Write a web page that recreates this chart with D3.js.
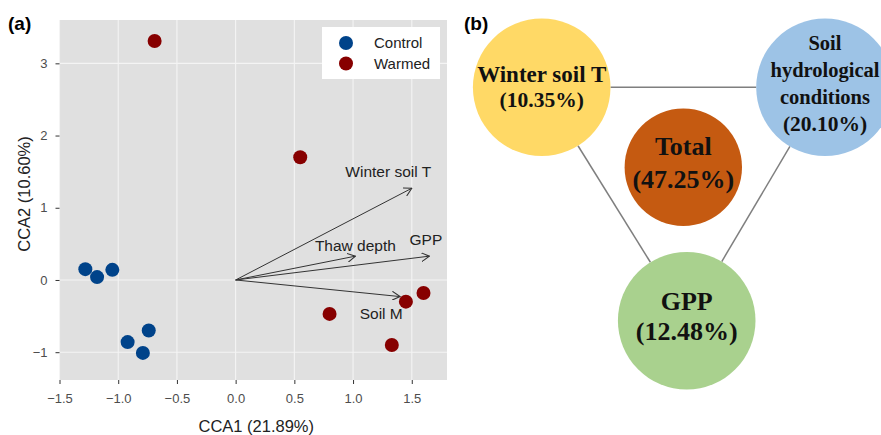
<!DOCTYPE html>
<html><head><meta charset="utf-8">
<script src="https://cdn.jsdelivr.net/npm/d3@7"></script>
<style>body{margin:0;background:#fff}svg{display:block}</style>
</head><body><svg id="c" width="881" height="435"></svg>
<script>
// ---- Panel (a) data: CCA ordination ----
const controlX = [-1.28, -1.18, -1.05, -0.74, -0.92, -0.79];
const controlY = [0.15, 0.04, 0.14, -0.70, -0.86, -1.01];
const warmedX = [-0.69, 0.55, 0.80, 1.45, 1.60, 1.33];
const warmedY = [3.31, 1.70, -0.47, -0.30, -0.18, -0.90];
const arrowNames = ["Winter soil T", "Thaw depth", "GPP", "Soil M"];
const arrowX = [1.50, 1.02, 1.65, 1.40];
const arrowY = [1.27, 0.33, 0.33, -0.23];
const labelX = [1.30, 1.02, 1.62, 1.24];
const labelY = [1.50, 0.47, 0.56, -0.47];
const xTicks = [-1.5, -1.0, -0.5, 0.0, 0.5, 1.0, 1.5];
const yTicks = [-1, 0, 1, 2, 3];
const yGridVisible = [-1, 0, 3];
const groups = ["Control", "Warmed"];
const groupColors = ["#00438a", "#870000"];

// ---- Panel (b) data: variance partitioning ----
const partNames = [["Winter soil T", "(10.35%)"], ["Soil", "hydrological", "conditions", "(20.10%)"], ["Total", "(47.25%)"], ["GPP", "(12.48%)"]];
const partValues = [10.35, 20.10, 47.25, 12.48];
const partColors = ["#ffd966", "#9dc3e6", "#c55a11", "#a9d18e"];

const svg = d3.select("#c");
const SANS = "Liberation Sans, Arial, sans-serif";

// ---------- Panel (a) ----------
const L = 59.5, R = 447, T = 20, B = 380;
const x = d3.scaleLinear().domain([-1.5, 1.8]).range([L, R]);
const y = d3.scaleLinear().domain([-1.385, 3.6]).range([B, T]);

svg.append("rect").attr("x", L).attr("y", T).attr("width", R - L).attr("height", B - T).attr("fill", "#e0e0e0");
const g = svg.append("g");
g.selectAll(".vg").data(xTicks).join("line")
  .attr("x1", d => x(d)).attr("x2", d => x(d)).attr("y1", T).attr("y2", B)
  .attr("stroke", "#f4f4f4").attr("stroke-width", 1.1);
g.selectAll(".hg").data(yGridVisible).join("line")
  .attr("y1", d => y(d)).attr("y2", d => y(d)).attr("x1", L).attr("x2", R)
  .attr("stroke", "#f4f4f4").attr("stroke-width", 1.1);

const xAxis = svg.append("g").attr("transform", `translate(0,${B})`)
  .call(d3.axisBottom(x).tickValues(xTicks).tickFormat(d3.format(".1f")).tickSize(4).tickPadding(6).tickSizeOuter(0));
xAxis.select(".domain").remove();
xAxis.selectAll("line").attr("stroke", "#333");
xAxis.selectAll("text").attr("fill", "#4d4d4d").attr("font-size", 13).attr("font-family", SANS).attr("dy", "1.0em")
  .text(d => d3.format(".1f")(d).replace("-", "\u2212"));

const yAxis = svg.append("g").attr("transform", `translate(${L},0)`)
  .call(d3.axisLeft(y).tickValues(yTicks).tickSize(4).tickPadding(8).tickSizeOuter(0));
yAxis.select(".domain").remove();
yAxis.selectAll("line").attr("stroke", "#333");
yAxis.selectAll("text").attr("fill", "#4d4d4d").attr("font-size", 13).attr("font-family", SANS)
  .text(d => String(d).replace("-", "\u2212"));

svg.append("text").attr("x", (L + R) / 2 + 3).attr("y", 432).attr("text-anchor", "middle")
  .attr("font-family", SANS).attr("font-size", 16.5).attr("fill", "#222").text("CCA1 (21.89%)");
svg.append("text").attr("transform", `translate(30,194) rotate(-90)`).attr("text-anchor", "middle")
  .attr("font-family", SANS).attr("font-size", 16.5).attr("fill", "#222").text("CCA2 (10.60%)");

// arrows
svg.append("defs").append("marker").attr("id", "ah").attr("viewBox", "0 0 10 10").attr("refX", 9).attr("refY", 5)
  .attr("markerWidth", 9).attr("markerHeight", 9).attr("markerUnits", "userSpaceOnUse").attr("orient", "auto")
  .append("path").attr("d", "M0,0 L9,5 L0,10").attr("fill", "none").attr("stroke", "#333").attr("stroke-width", 1.2);
svg.selectAll(".arr").data(arrowNames).join("line")
  .attr("x1", x(0)).attr("y1", y(0)).attr("x2", (d, i) => x(arrowX[i])).attr("y2", (d, i) => y(arrowY[i]))
  .attr("stroke", "#333").attr("stroke-width", 1).attr("marker-end", "url(#ah)");

// points
const pts = [];
controlX.forEach((v, i) => pts.push({x: v, y: controlY[i], g: 0}));
warmedX.forEach((v, i) => pts.push({x: v, y: warmedY[i], g: 1}));
svg.selectAll(".pt").data(pts).join("circle")
  .attr("cx", d => x(d.x)).attr("cy", d => y(d.y)).attr("r", 7).attr("fill", d => groupColors[d.g]);

svg.selectAll(".alab").data(arrowNames).join("text")
  .attr("x", (d, i) => x(labelX[i])).attr("y", (d, i) => y(labelY[i])).attr("dy", "0.35em").attr("text-anchor", "middle")
  .attr("font-family", SANS).attr("font-size", 15.5).attr("fill", "#222").text(d => d);

// legend
const lg = svg.append("g");
lg.append("rect").attr("x", 322).attr("y", 27).attr("width", 118).attr("height", 52).attr("fill", "#fff");
groups.forEach((name, i) => {
  lg.append("circle").attr("cx", 346).attr("cy", 43 + i * 20.5).attr("r", 7).attr("fill", groupColors[i]);
  lg.append("text").attr("x", 374).attr("y", 43 + i * 20.5).attr("dy", "0.35em").attr("font-family", SANS)
    .attr("font-size", 15).attr("fill", "#222").text(name);
});

svg.append("text").attr("x", 8).attr("y", 30).attr("font-family", SANS).attr("font-weight", "bold")
  .attr("font-size", 19).text("(a)");
svg.append("text").attr("x", 464).attr("y", 30).attr("font-family", SANS).attr("font-weight", "bold")
  .attr("font-size", 19).text("(b)");

// ---------- Panel (b) ----------
const nodeCx = [541.7, 825, 683.3, 686.7];
const nodeCy = [87.3, 87.3, 167.3, 320.7];
const nodeR = partValues.map((v, i) => i === 2 ? 58.7 : 68.8);
const links = [[0, 1], [0, 3], [1, 3]];
function edgePoint(a, b) {
  const dx = nodeCx[b] - nodeCx[a], dy = nodeCy[b] - nodeCy[a], len = Math.hypot(dx, dy);
  return [nodeCx[a] + dx / len * nodeR[a], nodeCy[a] + dy / len * nodeR[a]];
}
svg.selectAll(".lk").data(links).join("line")
  .attr("x1", d => edgePoint(d[0], d[1])[0]).attr("y1", d => edgePoint(d[0], d[1])[1])
  .attr("x2", d => edgePoint(d[1], d[0])[0]).attr("y2", d => edgePoint(d[1], d[0])[1])
  .attr("stroke", "#7f7f7f").attr("stroke-width", 1.5);
svg.selectAll(".nd").data(partNames).join("circle")
  .attr("cx", (d, i) => nodeCx[i]).attr("cy", (d, i) => nodeCy[i]).attr("r", (d, i) => nodeR[i]).attr("fill", (d, i) => partColors[i]);

const nameFs = [23, 20.5, 26, 26];
const pctFs = [21.5, 21.5, 26, 26];
const lh = [26, 26.9, 33, 30];
const yOff = [0, -3.5, -4, -4];
partNames.forEach((lines, i) => {
  const n = lines.length;
  lines.forEach((t, j) => {
    svg.append("text").attr("x", nodeCx[i]).attr("y", nodeCy[i] + (j - (n - 1) / 2) * lh[i] + yOff[i])
      .attr("dy", "0.33em").attr("text-anchor", "middle").attr("font-family", "Liberation Serif, Times New Roman, serif")
      .attr("font-weight", "bold").attr("font-size", j === n - 1 ? pctFs[i] : nameFs[i]).attr("fill", "#111").text(t);
  });
});
</script></body></html>
